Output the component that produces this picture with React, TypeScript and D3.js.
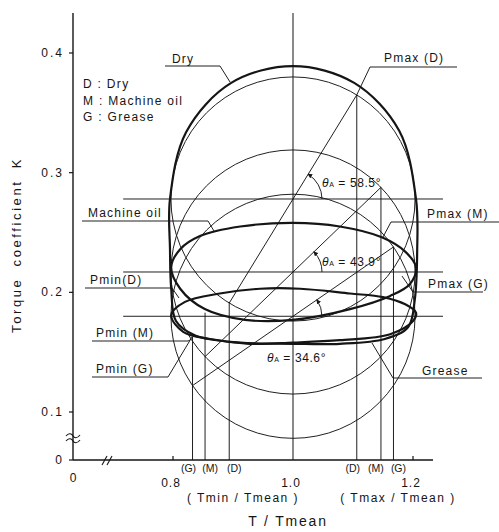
import React from 'react';
import * as d3 from 'd3';

const W = 499;
const H = 532;

// construction circles: D = dry, M = machine oil, G = grease
const lubricants = ['D', 'M', 'G'];
const lubricantNames = ['Dry', 'Machine oil', 'Grease'];
const centreK = [0.278, 0.217, 0.18];
const thetaA = [58.5, 43.9, 34.6];
const circleRadiusK = 0.102;
// where the Tmin projection lines start (they run up to the loops)
const minProjectionTopK = [0.192, 0.183, 0.163];

const dryLoop = [
  [1.0, 0.389], [1.102, 0.375], [1.177, 0.335], [1.205, 0.278], [1.207, 0.236],
  [1.203, 0.194], [1.192, 0.171], [1.153, 0.161], [1.078, 0.157], [1.0, 0.157],
  [0.912, 0.158], [0.837, 0.164], [0.805, 0.176], [0.797, 0.203], [0.795, 0.236],
  [0.795, 0.278], [0.822, 0.334], [0.897, 0.375],
];
const oilLoop = [
  [0.797, 0.221], [0.812, 0.236], [0.845, 0.247], [0.912, 0.255], [1.0, 0.258],
  [1.078, 0.255], [1.148, 0.246], [1.187, 0.234], [1.205, 0.221], [1.195, 0.207],
  [1.162, 0.197], [1.095, 0.186], [1.0, 0.177], [0.92, 0.177], [0.853, 0.186],
  [0.812, 0.203],
];
const greaseLoop = [
  [0.797, 0.181], [0.82, 0.192], [0.878, 0.199], [0.945, 0.203], [1.012, 0.203],
  [1.095, 0.199], [1.15, 0.196], [1.187, 0.19], [1.205, 0.183], [1.2, 0.176],
  [1.162, 0.165], [1.078, 0.16], [1.0, 0.158], [0.928, 0.157], [0.862, 0.161],
  [0.817, 0.167],
];

const yTicks = [0.1, 0.2, 0.3, 0.4];
const xTicks = [0.8, 1.0, 1.2];

const font = '"Liberation Sans", Arial, sans-serif';
const ink = '#151515';

export default function App() {
  const x = d3.scaleLinear().domain([0.8, 1.2]).range([173, 413]);
  const y = d3.scaleLinear().domain([0.1, 0.4]).range([412, 53]);
  const x0 = 73; // T = 0 (axis broken)
  const y0 = 460; // K = 0 (axis broken)
  const top = 13;
  const cx = x(1);
  const rPx = y(0.2) - y(0.2 + circleRadiusK);

  const constr = lubricants.map((key, i) => {
    const cy = y(centreK[i]);
    const a = (thetaA[i] * Math.PI) / 180;
    return {
      key,
      cy,
      a,
      max: [cx + rPx * Math.cos(a), cy - rPx * Math.sin(a)],
      min: [cx - rPx * Math.cos(a), cy + rPx * Math.sin(a)],
      minTop: Math.min(cy + rPx * Math.sin(a), y(minProjectionTopK[i])),
    };
  });

  const loop = d3
    .line<number[]>()
    .x((d) => x(d[0]))
    .y((d) => y(d[1]))
    .curve(d3.curveCatmullRomClosed.alpha(0.5));

  const arcR = 29;
  const thetaText = [
    { dx: 29, y: 187 },
    { dx: 29, y: 266 },
    { dx: -26, y: 362 },
  ];
  const minLabelDx = [5, 5, -4];
  const maxLabelDx = [-4, -5, 5];

  const txt = { fontFamily: font, fill: ink } as const;

  // label + underline + leader, in pixel layout
  const callouts = [
    { t: 'Dry', tx: 172, ty: 63, ux1: 165, ux2: 220, uy: 66, lx: 220, ly: 66, ex: 230, ey: 82 },
    { t: 'Pmax (D)', tx: 384, ty: 62, ux1: 370, ux2: 457, uy: 67, lx: 370, ly: 67, ex: constr[0].max[0], ey: constr[0].max[1] },
    { t: 'Pmax (M)', tx: 427, ty: 218, ux1: 391, ux2: 499, uy: 222, lx: 391, ly: 222, ex: 383, ey: 237 },
    { t: 'Pmax (G)', tx: 428, ty: 288, ux1: 413, ux2: 483, uy: 292, lx: 413, ly: 292, ex: 402, ey: 276 },
    { t: 'Machine oil', tx: 88, ty: 217, ux1: 82, ux2: 208, uy: 221, lx: 208, ly: 221, ex: 214, ey: 231 },
    { t: 'Pmin(D)', tx: 90, ty: 284, ux1: 85, ux2: 172, uy: 288, lx: 172, ly: 288, ex: 179, ey: 298 },
    { t: 'Pmin (M)', tx: 96, ty: 337, ux1: 92, ux2: 188, uy: 341, lx: 188, ly: 341, ex: 190, ey: 340 },
    { t: 'Pmin (G)', tx: 96, ty: 373, ux1: 92, ux2: 168, uy: 377, lx: 168, ly: 377, ex: 192, ey: 337 },
    { t: 'Grease', tx: 422, ty: 375, ux1: 393, ux2: 482, uy: 378, lx: 393, ly: 378, ex: 372, ey: 343 },
  ];

  return (
    <svg
      width={W}
      height={H}
      style={{ position: 'absolute', left: 0, top: 0, background: '#fff' }}
    >
      <defs>
        <marker id="arr" viewBox="0 0 6 6" refX="5" refY="3" markerWidth="5" markerHeight="5" orient="auto">
          <path d="M0,0 L6,3 L0,6 z" fill={ink} />
        </marker>
      </defs>

      {/* axes */}
      <g stroke={ink} fill="none">
        <line x1={x0} y1={top} x2={x0} y2={y0} strokeWidth={1.4} />
        <line x1={x0} y1={y0} x2={433} y2={y0} strokeWidth={1.4} />
        {yTicks.map((v) => (
          <line key={v} x1={x0 - 4} x2={x0} y1={y(v)} y2={y(v)} strokeWidth={1.2} />
        ))}
        <line x1={x0 - 4} x2={x0} y1={y0} y2={y0} strokeWidth={1.2} />
        {[0.8, 1.2].map((v) => (
          <line key={v} x1={x(v)} x2={x(v)} y1={y0} y2={y0 - 4} strokeWidth={1.2} />
        ))}
        {/* axis breaks */}
        <path d={`M${x0 - 7},${436} c3,-4 6,-2 7,0 s4,3 7,-1`} strokeWidth={1.1} />
        <path d={`M${x0 - 7},${441} c3,-4 6,-2 7,0 s4,3 7,-1`} strokeWidth={1.1} />
        <line x1={102} y1={465} x2={107} y2={456} strokeWidth={1.1} />
        <line x1={107} y1={465} x2={112} y2={456} strokeWidth={1.1} />
      </g>

      {/* centre vertical */}
      <line x1={cx} x2={cx} y1={top} y2={y0} stroke={ink} strokeWidth={1} />

      {/* construction: circles, centre lines, diameters, projections */}
      <g stroke={ink} fill="none" strokeWidth={0.95}>
        {constr.map((c) => (
          <g key={c.key}>
            <circle cx={cx} cy={c.cy} r={rPx} />
            <line x1={x(0.717)} x2={x(1.25)} y1={c.cy} y2={c.cy} />
            <line x1={c.min[0]} y1={c.min[1]} x2={c.max[0]} y2={c.max[1]} />
            <line x1={c.max[0]} y1={c.max[1]} x2={c.max[0]} y2={y0} />
            <line x1={c.min[0]} y1={c.minTop} x2={c.min[0]} y2={y0} />
            <path
              d={`M${cx + arcR},${c.cy} A${arcR},${arcR} 0 0 0 ${cx + arcR * Math.cos(c.a)},${c.cy - arcR * Math.sin(c.a)}`}
              markerEnd="url(#arr)"
            />
          </g>
        ))}
      </g>

      {/* measured loops */}
      <g stroke={ink} fill="none" strokeWidth={2.2}>
        <path d={loop(dryLoop) ?? ''} />
        <path d={loop(oilLoop) ?? ''} />
        <path d={loop(greaseLoop) ?? ''} />
      </g>

      {/* callouts */}
      <g stroke={ink} fill="none" strokeWidth={0.95}>
        {callouts.map((c) => (
          <g key={c.t}>
            <line x1={c.ux1} x2={c.ux2} y1={c.uy} y2={c.uy} />
            <line x1={c.lx} y1={c.ly} x2={c.ex} y2={c.ey} />
          </g>
        ))}
      </g>
      {callouts.map((c) => (
        <text key={c.t} x={c.tx} y={c.ty} fontSize={12} letterSpacing={1.2} {...txt}>
          {c.t}
        </text>
      ))}

      {/* theta labels */}
      {constr.map((c, i) => (
        <text key={c.key} x={cx + thetaText[i].dx} y={thetaText[i].y} fontSize={12} letterSpacing={0.6} {...txt}>
          <tspan fontStyle="italic">θ</tspan>
          <tspan fontSize={7}>A</tspan>
          <tspan>{` = ${thetaA[i]}°`}</tspan>
        </text>
      ))}

      {/* legend */}
      {lubricants.map((k, i) => (
        <text key={k} x={83} y={88 + i * 16.5} fontSize={12} letterSpacing={1.3} {...txt}>
          {`${k} : ${lubricantNames[i]}`}
        </text>
      ))}

      {/* tick labels */}
      {yTicks.map((v) => (
        <text key={v} x={64} y={y(v) + 4} textAnchor="end" fontSize={12} letterSpacing={2} {...txt}>
          {v.toFixed(1)}
        </text>
      ))}
      <text x={62} y={y0 + 4} textAnchor="end" fontSize={12} {...txt}>0</text>
      <text x={x0} y={482} textAnchor="middle" fontSize={12} {...txt}>0</text>
      {xTicks.map((v) => (
        <text key={v} x={x(v) - 2} y={487} textAnchor="middle" fontSize={12} letterSpacing={1} {...txt}>
          {v.toFixed(1)}
        </text>
      ))}

      {/* projection labels */}
      {constr.map((c, i) => (
        <text key={'n' + c.key} x={c.min[0] + minLabelDx[i]} y={472} textAnchor="middle" fontSize={10.5} {...txt}>
          {`(${c.key})`}
        </text>
      ))}
      {constr.map((c, i) => (
        <text key={'x' + c.key} x={c.max[0] + maxLabelDx[i]} y={472} textAnchor="middle" fontSize={10.5} {...txt}>
          {`(${c.key})`}
        </text>
      ))}

      {/* axis titles */}
      <text x={243} y={502} textAnchor="middle" fontSize={12} letterSpacing={1.5} {...txt}>
        ( Tmin / Tmean )
      </text>
      <text x={398} y={502} textAnchor="middle" fontSize={12} letterSpacing={1.5} {...txt}>
        ( Tmax / Tmean )
      </text>
      <text x={288} y={526} textAnchor="middle" fontSize={14} letterSpacing={1.8} {...txt}>
        T / Tmean
      </text>
      <text
        transform="translate(21,245) rotate(-90)"
        textAnchor="middle"
        fontSize={13}
        letterSpacing={2.6}
        wordSpacing={5}
        {...txt}
      >
        Torque coefficient K
      </text>
    </svg>
  );
}
